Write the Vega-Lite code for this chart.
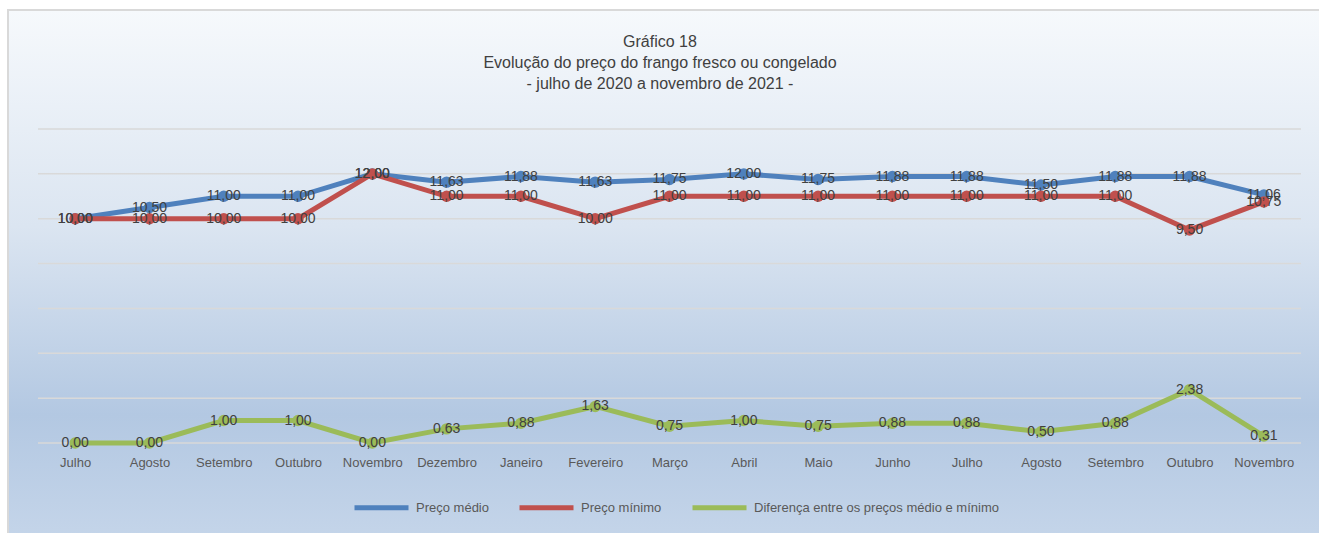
{
  "$schema": "https://vega.github.io/schema/vega-lite/v6.json",
  "width": 1330,
  "height": 540,
  "autosize": {"type": "none"},
  "padding": {"left": 8, "top": 10, "right": 0, "bottom": 0},
  "background": "#ffffff",
  "config": {
    "locale": {"number": {"decimal": ",", "thousands": ".", "grouping": [3], "currency": ["", " €"]}},
    "font": "Liberation Sans",
    "view": {
      "fill": {"gradient": "linear", "x1": 0, "y1": 0, "x2": 0, "y2": 1,
        "stops": [
          {"offset": 0, "color": "#f6f9fc"},
          {"offset": 0.4, "color": "#dbe5f1"},
          {"offset": 0.75, "color": "#b3c8e2"},
          {"offset": 1, "color": "#c6d6ea"}
        ]},
      "stroke": "#d9d9d9",
      "strokeWidth": 2
    }
  },
  "title": {
    "text": ["Gráfico 18", "Evolução do preço do frango fresco ou congelado", "- julho de 2020 a novembro de 2021 -"],
    "anchor": "middle",
    "frame": "group",
    "dx": -13,
    "offset": -82,
    "fontSize": 16,
    "fontWeight": "normal",
    "lineHeight": 21,
    "color": "#404040",
    "font": "Liberation Sans"
  },
  "datasets": {
    "grid": [{"g": 0}, {"g": 2}, {"g": 4}, {"g": 6}, {"g": 8}, {"g": 10}, {"g": 12}, {"g": 14}],
    "precos": [
      {"i": 0, "mes": "Julho", "serie": "Preço médio", "valor": 10.00},
      {"i": 1, "mes": "Agosto", "serie": "Preço médio", "valor": 10.50},
      {"i": 2, "mes": "Setembro", "serie": "Preço médio", "valor": 11.00},
      {"i": 3, "mes": "Outubro", "serie": "Preço médio", "valor": 11.00},
      {"i": 4, "mes": "Novembro", "serie": "Preço médio", "valor": 12.00},
      {"i": 5, "mes": "Dezembro", "serie": "Preço médio", "valor": 11.63},
      {"i": 6, "mes": "Janeiro", "serie": "Preço médio", "valor": 11.88},
      {"i": 7, "mes": "Fevereiro", "serie": "Preço médio", "valor": 11.63},
      {"i": 8, "mes": "Março", "serie": "Preço médio", "valor": 11.75},
      {"i": 9, "mes": "Abril", "serie": "Preço médio", "valor": 12.00},
      {"i": 10, "mes": "Maio", "serie": "Preço médio", "valor": 11.75},
      {"i": 11, "mes": "Junho", "serie": "Preço médio", "valor": 11.88},
      {"i": 12, "mes": "Julho", "serie": "Preço médio", "valor": 11.88},
      {"i": 13, "mes": "Agosto", "serie": "Preço médio", "valor": 11.50},
      {"i": 14, "mes": "Setembro", "serie": "Preço médio", "valor": 11.88},
      {"i": 15, "mes": "Outubro", "serie": "Preço médio", "valor": 11.88},
      {"i": 16, "mes": "Novembro", "serie": "Preço médio", "valor": 11.06},
      {"i": 0, "mes": "Julho", "serie": "Preço mínimo", "valor": 10.00},
      {"i": 1, "mes": "Agosto", "serie": "Preço mínimo", "valor": 10.00},
      {"i": 2, "mes": "Setembro", "serie": "Preço mínimo", "valor": 10.00},
      {"i": 3, "mes": "Outubro", "serie": "Preço mínimo", "valor": 10.00},
      {"i": 4, "mes": "Novembro", "serie": "Preço mínimo", "valor": 12.00},
      {"i": 5, "mes": "Dezembro", "serie": "Preço mínimo", "valor": 11.00},
      {"i": 6, "mes": "Janeiro", "serie": "Preço mínimo", "valor": 11.00},
      {"i": 7, "mes": "Fevereiro", "serie": "Preço mínimo", "valor": 10.00},
      {"i": 8, "mes": "Março", "serie": "Preço mínimo", "valor": 11.00},
      {"i": 9, "mes": "Abril", "serie": "Preço mínimo", "valor": 11.00},
      {"i": 10, "mes": "Maio", "serie": "Preço mínimo", "valor": 11.00},
      {"i": 11, "mes": "Junho", "serie": "Preço mínimo", "valor": 11.00},
      {"i": 12, "mes": "Julho", "serie": "Preço mínimo", "valor": 11.00},
      {"i": 13, "mes": "Agosto", "serie": "Preço mínimo", "valor": 11.00},
      {"i": 14, "mes": "Setembro", "serie": "Preço mínimo", "valor": 11.00},
      {"i": 15, "mes": "Outubro", "serie": "Preço mínimo", "valor": 9.50},
      {"i": 16, "mes": "Novembro", "serie": "Preço mínimo", "valor": 10.75},
      {"i": 0, "mes": "Julho", "serie": "Diferença entre os preços médio e mínimo", "valor": 0.00},
      {"i": 1, "mes": "Agosto", "serie": "Diferença entre os preços médio e mínimo", "valor": 0.00},
      {"i": 2, "mes": "Setembro", "serie": "Diferença entre os preços médio e mínimo", "valor": 1.00},
      {"i": 3, "mes": "Outubro", "serie": "Diferença entre os preços médio e mínimo", "valor": 1.00},
      {"i": 4, "mes": "Novembro", "serie": "Diferença entre os preços médio e mínimo", "valor": 0.00},
      {"i": 5, "mes": "Dezembro", "serie": "Diferença entre os preços médio e mínimo", "valor": 0.63},
      {"i": 6, "mes": "Janeiro", "serie": "Diferença entre os preços médio e mínimo", "valor": 0.88},
      {"i": 7, "mes": "Fevereiro", "serie": "Diferença entre os preços médio e mínimo", "valor": 1.63},
      {"i": 8, "mes": "Março", "serie": "Diferença entre os preços médio e mínimo", "valor": 0.75},
      {"i": 9, "mes": "Abril", "serie": "Diferença entre os preços médio e mínimo", "valor": 1.00},
      {"i": 10, "mes": "Maio", "serie": "Diferença entre os preços médio e mínimo", "valor": 0.75},
      {"i": 11, "mes": "Junho", "serie": "Diferença entre os preços médio e mínimo", "valor": 0.88},
      {"i": 12, "mes": "Julho", "serie": "Diferença entre os preços médio e mínimo", "valor": 0.88},
      {"i": 13, "mes": "Agosto", "serie": "Diferença entre os preços médio e mínimo", "valor": 0.50},
      {"i": 14, "mes": "Setembro", "serie": "Diferença entre os preços médio e mínimo", "valor": 0.88},
      {"i": 15, "mes": "Outubro", "serie": "Diferença entre os preços médio e mínimo", "valor": 2.38},
      {"i": 16, "mes": "Novembro", "serie": "Diferença entre os preços médio e mínimo", "valor": 0.31}
    ]
  },
  "layer": [
    {
      "data": {"name": "grid"},
      "mark": {"type": "rule", "color": "#d9d9d9", "strokeWidth": 1.5},
      "encoding": {
        "y": {"field": "g", "type": "quantitative"},
        "x": {"datum": -0.5, "type": "quantitative"},
        "x2": {"datum": 16.5}
      }
    },
    {
      "data": {"name": "precos"},
      "mark": {"type": "line", "strokeWidth": 5, "point": {"filled": true, "size": 130, "opacity": 1}},
      "encoding": {
        "x": {"field": "i", "type": "quantitative"},
        "y": {"field": "valor", "type": "quantitative"},
        "color": {
          "field": "serie", "type": "nominal",
          "scale": {"domain": ["Preço médio", "Preço mínimo", "Diferença entre os preços médio e mínimo"], "range": ["#4f81bd", "#c0504d", "#9bbb59"]},
          "legend": {
            "title": null, "orient": "none", "direction": "horizontal",
            "legendX": 344, "legendY": 468,
            "symbolType": "stroke", "symbolSize": 2916, "symbolStrokeWidth": 5,
            "labelFontSize": 13, "labelColor": "#595959", "labelFont": "Liberation Sans",
            "labelOffset": 5, "columnPadding": 20, "labelLimit": 400
          }
        }
      }
    },
    {
      "data": {"name": "precos"},
      "mark": {"type": "text", "fontSize": 14, "color": "#404040", "baseline": "middle", "align": "center"},
      "encoding": {
        "x": {"field": "i", "type": "quantitative"},
        "y": {"field": "valor", "type": "quantitative"},
        "text": {"field": "valor", "type": "quantitative", "format": ".2f"}
      }
    }
  ],
  "resolve": {"scale": {"x": "shared", "y": "shared"}},
  "encoding": {
    "x": {
      "type": "quantitative",
      "scale": {"domain": [-0.5, 16.5], "range": [30, 1293], "nice": false, "zero": false},
      "axis": {
        "title": null, "values": [0,1,2,3,4,5,6,7,8,9,10,11,12,13,14,15,16],
        "labelExpr": "['Julho','Agosto','Setembro','Outubro','Novembro','Dezembro','Janeiro','Fevereiro','Março','Abril','Maio','Junho','Julho','Agosto','Setembro','Outubro','Novembro'][datum.value]",
        "domain": false, "ticks": false, "grid": false,
        "offset": -107, "labelPadding": 13,
        "labelFontSize": 13, "labelColor": "#595959", "labelFont": "Liberation Sans"
      }
    },
    "y": {
      "type": "quantitative",
      "scale": {"domain": [0, 14], "range": [433, 119], "nice": false, "zero": true},
      "axis": null
    }
  }
}
